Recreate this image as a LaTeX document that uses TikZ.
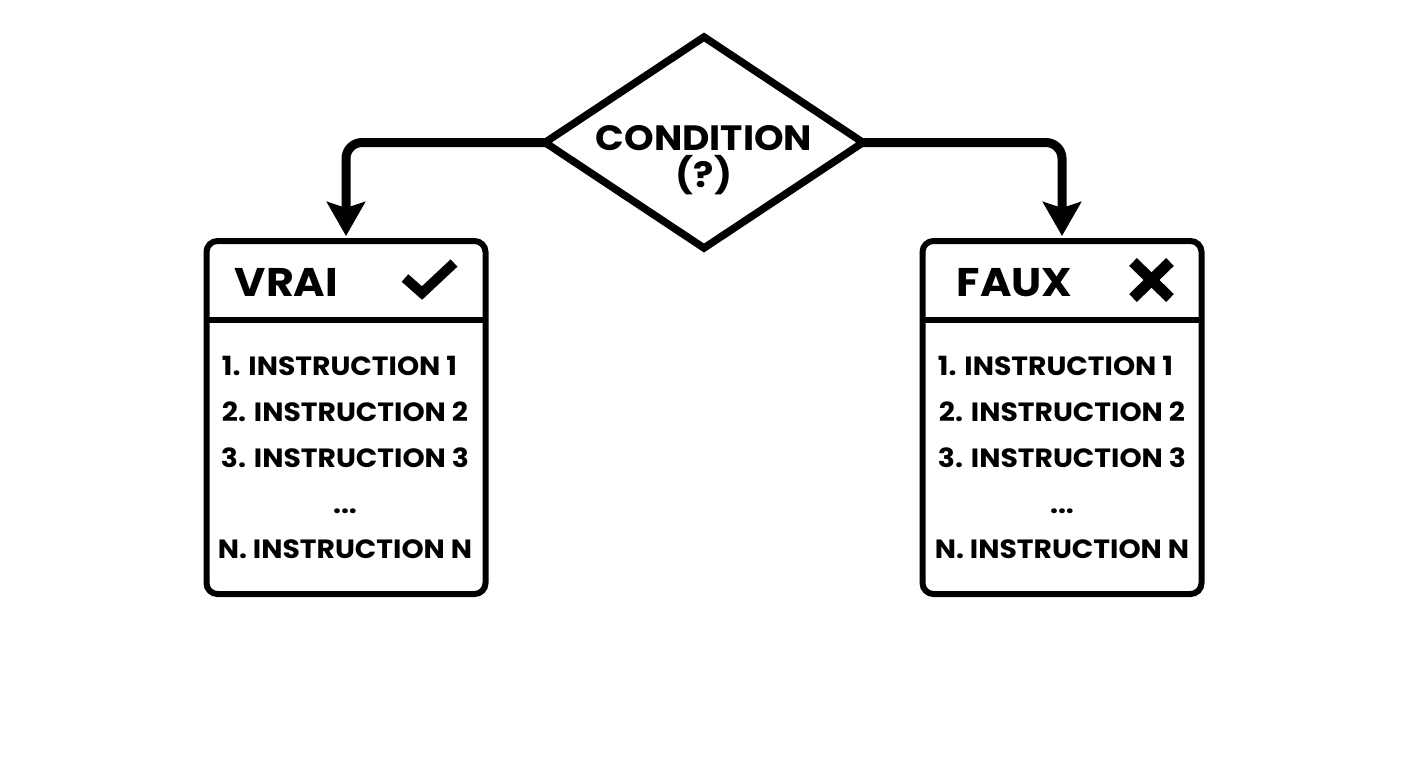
\documentclass[tikz,border=0pt]{standalone}
\usepackage{fontspec}
\setmainfont{Poppins}[FakeStretch=1.07]
\usetikzlibrary{arrows.meta,shapes.geometric}
\begin{document}
\begin{tikzpicture}[x=0.5pt,y=-0.5pt,
	decision/.style = {diamond,draw,line width=3.75pt,outer sep=0pt,minimum width=159pt,minimum height=105.5pt,inner sep=0pt},
	resultbox/.style = {rectangle,draw,line width=3pt,rounded corners=5.5pt,minimum width=139.5pt,minimum height=176.5pt,inner sep=0pt},
	divider/.style = {line width=3pt,shorten <=1.5pt,shorten >=1.5pt},
	flow/.style = {line width=4.5pt,rounded corners=8pt,shorten >=1pt,-{Stealth[length=17pt,width=19pt,inset=3pt]}},
	title/.style = {anchor=base,font=\bfseries\fontsize{20}{20}\selectfont},
	condtext/.style = {align=center,font=\bfseries\fontsize{17.6}{18.5}\selectfont},
	line/.style = {anchor=base,font=\bfseries\fontsize{13.2}{13}\selectfont}]
	\useasboundingbox (0,0) rectangle (1408,768);

	\node (cond) at (704,142.5) [decision] {};
	\node (condlabel) at (704,160.5) [condtext] {CONDITION\\(?)};

	% left box
	\node (vrai) at (346,417.5) [resultbox] {};
	\node (vraititle) at (286.5,296) [title] {VRAI};
	\node (v1) at (339.5,375) [line] {1. INSTRUCTION 1};
	\node (v2) at (345,421) [line] {2. INSTRUCTION 2};
	\node (v3) at (345,467) [line] {3. INSTRUCTION 3};
	\node (vdots) at (345,513) [line] {...};
	\node (vn) at (345,558) [line] {N. INSTRUCTION N};
	\draw[divider] (vrai.west |- 0,320) -- (vrai.east |- 0,320);
	\draw[line width=5pt] (405,278) -- (422,293) -- (454,263);

	% right box
	\node (faux) at (1062,417.5) [resultbox] {};
	\node (fauxtitle) at (1014.5,296) [title] {FAUX};
	\node (f1) at (1055.5,375) [line] {1. INSTRUCTION 1};
	\node (f2) at (1062,421) [line] {2. INSTRUCTION 2};
	\node (f3) at (1062,467) [line] {3. INSTRUCTION 3};
	\node (fdots) at (1062,513) [line] {...};
	\node (fn) at (1062,558) [line] {N. INSTRUCTION N};
	\draw[divider] (faux.west |- 0,320) -- (faux.east |- 0,320);
	\draw[line width=5.5pt] (1133,262) -- (1170,298);
	\draw[line width=5.5pt] (1170,262) -- (1133,298);

	\draw[flow] (cond.west) -| (vrai.north);
	\draw[flow] (cond.east) -| (faux.north);
\end{tikzpicture}
\end{document}
